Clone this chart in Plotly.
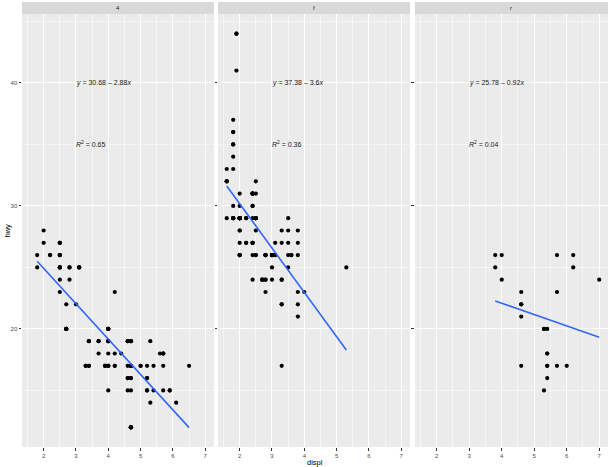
import numpy as np
import plotly.graph_objects as go

# mpg data: (displ, hwy) by drive train
displ_4 = [1.8,1.8,2.0,2.0,2.8,2.8,3.1,3.1,2.8,3.1,4.2,
           5.3,5.3,5.7,6.5,
           3.7,3.7,3.9,3.9,4.7,4.7,4.7,5.2,5.2,
           3.9,4.7,4.7,4.7,5.2,5.7,5.9,
           4.7,4.7,4.7,4.7,4.7,4.7,5.2,5.2,5.7,5.9,
           4.0,4.0,4.0,4.0,4.6,5.0,4.2,4.2,4.6,4.6,4.6,5.4,5.4,
           3.0,3.7,4.0,4.7,4.7,4.7,5.7,6.1,
           4.0,4.2,4.4,4.6,
           4.0,4.0,4.6,5.0,
           3.3,3.3,4.0,5.6,
           2.5,2.5,2.5,2.5,2.5,2.5,2.2,2.2,2.5,2.5,2.5,2.5,2.5,2.5,
           2.7,2.7,3.4,3.4,4.0,4.7,
           4.7,5.7,2.7,2.7,2.7,3.4,3.4,4.0,4.0]
hwy_4 = [26,25,28,27,25,25,25,25,24,25,23,
         19,14,15,17,
         19,18,17,17,19,19,12,17,15,
         17,17,12,17,16,18,15,
         16,12,17,17,16,12,15,16,17,15,
         17,19,17,19,19,17,17,17,16,16,17,15,17,
         22,19,20,17,12,19,18,14,
         15,18,18,15,
         17,19,19,17,
         17,17,20,18,
         25,24,27,25,26,23,26,26,26,26,27,25,27,25,
         20,20,19,17,20,17,
         15,18,20,20,22,17,19,18,20]

displ_f = [1.8,1.8,2.0,2.0,2.8,2.8,3.1,
           2.4,2.4,3.1,3.5,3.6,
           2.4,3.0,3.3,3.3,3.3,3.3,3.3,3.8,3.8,3.8,4.0,
           1.6,1.6,1.6,1.6,1.6,1.8,1.8,1.8,2.0,
           2.4,2.4,2.4,2.4,2.5,2.5,3.3,2.0,2.0,2.0,2.0,2.7,2.7,2.7,
           2.4,2.4,2.5,2.5,3.5,3.5,3.0,3.0,3.5,
           3.1,3.8,3.8,3.8,5.3,
           2.2,2.2,2.4,2.4,3.0,3.0,3.5,2.2,2.2,2.4,2.4,3.0,3.0,3.3,
           1.8,1.8,1.8,1.8,1.8,
           2.0,2.0,2.0,2.0,2.8,
           1.9,2.0,2.0,2.0,2.0,2.5,2.5,2.8,2.8,
           1.9,1.9,2.0,2.0,2.5,2.5,
           1.8,1.8,2.0,2.0,2.8,2.8,3.6]
hwy_f = [29,29,31,30,26,26,27,
         27,30,26,29,26,
         24,24,22,22,24,24,17,22,21,23,23,
         33,32,32,29,32,34,36,36,29,
         26,27,30,31,26,26,28,26,29,28,27,24,24,24,
         29,27,31,32,27,26,26,25,25,
         26,26,27,28,25,
         29,27,31,31,26,26,28,27,29,31,31,26,26,27,
         30,33,35,37,35,
         29,26,29,29,24,
         44,29,26,29,29,29,29,23,24,
         44,41,29,26,28,29,
         29,29,28,29,26,26,26]

displ_r = [5.3,5.3,5.3,5.7,6.0,5.7,5.7,6.2,6.2,7.0,
           4.6,5.4,5.4,
           3.8,3.8,4.0,4.0,4.6,4.6,4.6,4.6,5.4,
           5.4,5.4,5.4]
hwy_r = [20,15,20,17,17,26,23,26,25,24,
         17,17,18,
         26,25,26,24,21,22,23,22,20,
         17,16,18]

facets = ["4", "f", "r"]
eq_labels = ["<i>y</i> = 30.68 \u2013 2.88<i>x</i>",
             "<i>y</i> = 37.38 \u2013 3.6<i>x</i>",
             "<i>y</i> = 25.78 \u2013 0.92<i>x</i>"]
r2_labels = ["<i>R</i><sup>2</sup> = 0.65",
             "<i>R</i><sup>2</sup> = 0.36",
             "<i>R</i><sup>2</sup> = 0.04"]
x_ticks = [2, 3, 4, 5, 6, 7]
y_ticks = [20, 30, 40]

data = [(displ_4, hwy_4), (displ_f, hwy_f), (displ_r, hwy_r)]

all_x = displ_4 + displ_f + displ_r
all_y = hwy_4 + hwy_f + hwy_r
xr = [min(all_x) - 0.05 * (max(all_x) - min(all_x)), max(all_x) + 0.05 * (max(all_x) - min(all_x))]
yr = [min(all_y) - 0.05 * (max(all_y) - min(all_y)), max(all_y) + 0.05 * (max(all_y) - min(all_y))]

FONT = "Liberation Sans, Arial, sans-serif"
fig = go.Figure()
domains = [[0.0, 0.3276], [0.3345, 0.6621], [0.6706, 1.0]]

annotations = []
shapes = []
for i, (xs, ys) in enumerate(data):
    n = "" if i == 0 else str(i + 1)
    xa, ya = "x" + n, "y" + n
    fig.add_trace(go.Scatter(x=xs, y=ys, mode="markers", xaxis=xa, yaxis=ya,
                             marker=dict(color="black", size=4.2, line=dict(width=0)),
                             showlegend=False, hoverinfo="skip"))
    b, a = np.polyfit(xs, ys, 1)
    lx = np.array([min(xs), max(xs)])
    fig.add_trace(go.Scatter(x=lx, y=a + b * lx, mode="lines", xaxis=xa, yaxis=ya,
                             line=dict(color="#3366FF", width=1.6),
                             showlegend=False, hoverinfo="skip"))
    axis_common = dict(showline=False, zeroline=False, ticks="outside", ticklen=2.5,
                       tickwidth=0.6, tickcolor="#333333",
                       tickfont=dict(family=FONT, size=6, color="#4d4d4d"),
                       gridcolor="white", gridwidth=0.9, automargin=False)
    fig.update_layout(**{
        "xaxis" + n: dict(domain=domains[i], range=xr, tickvals=x_ticks,
                          minor=dict(dtick=0.5, tick0=0, showgrid=True, gridcolor="#f5f5f5", gridwidth=0.5, ticks=""),
                          anchor=ya, **axis_common),
        "yaxis" + n: dict(domain=[0, 1], range=yr, tickvals=y_ticks,
                          minor=dict(dtick=5, tick0=0, showgrid=True, gridcolor="#f5f5f5", gridwidth=0.5, ticks=""),
                          anchor=xa, showticklabels=(i == 0),
                          **({} if i == 0 else {"matches": "y"}), **axis_common),
    })
    shapes.append(dict(type="rect", xref="paper", yref="paper", x0=domains[i][0], x1=domains[i][1],
                       y0=0, y1=1, fillcolor="#ebebeb", line=dict(width=0), layer="below"))
    shapes.append(dict(type="rect", xref="paper", yref="paper", x0=domains[i][0], x1=domains[i][1],
                       y0=1, y1=1 + 12 / 433, fillcolor="#d9d9d9", line=dict(width=0), layer="below"))
    annotations.append(dict(xref="paper", yref="paper", x=(domains[i][0] + domains[i][1]) / 2,
                            y=1 + 6 / 433, text=facets[i], showarrow=False, xanchor="center", yanchor="middle",
                            font=dict(family=FONT, size=6, color="#1a1a1a")))
    annotations.append(dict(xref=xa, yref=ya, x=3, y=40, xshift=-2, text=eq_labels[i], showarrow=False,
                            xanchor="left", yanchor="middle", font=dict(family=FONT, size=7, color="#1a1a1a")))
    annotations.append(dict(xref=xa, yref=ya, x=3, y=35, xshift=-2, text=r2_labels[i], showarrow=False,
                            xanchor="left", yanchor="middle", font=dict(family=FONT, size=7, color="#1a1a1a")))

annotations.append(dict(xref="paper", yref="paper", x=0.5, y=0, yshift=-9, text="displ", showarrow=False,
                        xanchor="center", yanchor="top", font=dict(family=FONT, size=7.5, color="black")))
annotations.append(dict(xref="paper", yref="paper", x=0, xshift=-15, y=0.5, text="hwy", showarrow=False,
                        textangle=-90, xanchor="center", yanchor="middle",
                        font=dict(family=FONT, size=7.5, color="black")))

fig.update_layout(width=610, height=467, margin=dict(l=22, r=2, t=14, b=20),
                  paper_bgcolor="white", plot_bgcolor="rgba(0,0,0,0)",
                  shapes=shapes, annotations=annotations)
fig.write_html("out.html", config={"displayModeBar": False},
               post_script="document.body.style.margin='0';document.body.style.padding='0';")
